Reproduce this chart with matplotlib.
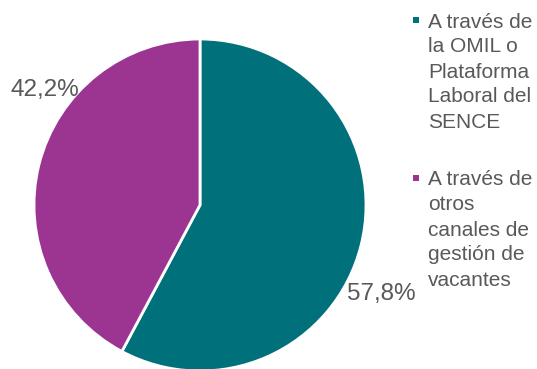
import matplotlib
matplotlib.use("Agg")
import matplotlib.pyplot as plt

plt.rcParams['font.family'] = ['Liberation Sans', 'DejaVu Sans']

categories = [
    "A través de\nla OMIL o\nPlataforma\nLaboral del\nSENCE",
    "A través de\notros\ncanales de\ngestión de\nvacantes",
]
values = [57.8, 42.2]
colors = ["#00717B", "#9C3592"]
text_color = "#595959"

W, H = 537, 369
fig = plt.figure(figsize=(W / 100, H / 100), dpi=100)

# pie axes placed in pixel terms: centre (200, 205), radius 166
cx, cy, r = 200, 205, 166
ax = fig.add_axes([(cx - r) / W, (H - cy - r) / H, 2 * r / W, 2 * r / H])
ax.pie(values, colors=colors, startangle=90, counterclock=False,
       wedgeprops=dict(edgecolor="white", linewidth=2), radius=1.0)
ax.set_xlim(-1, 1)
ax.set_ylim(-1, 1)
ax.set_aspect("equal")
ax.axis("off")

# value labels
label_pos = [(1.09, -0.535), (-0.935, 0.695)]
for v, (x, y) in zip(values, label_pos):
    ax.text(x, y, f"{v:.1f}%".replace(".", ","), ha="center", va="center",
            fontsize=17.5, color=text_color, clip_on=False)

# legend: square marker beside the first line of each wrapped label,
# one text line every 25 px
entry_center = [20, 178]
line_step = 25
for lab, c, yc in zip(categories, colors, entry_center):
    for i, line in enumerate(lab.split("\n")):
        fig.text(428 / W, 1 - (yc + i * line_step) / H, line, ha="left",
                 va="center_baseline", fontsize=15, color=text_color)
    fig.patches.append(plt.Rectangle((413 / W, 1 - (yc + 3) / H),
                                     6 / W, 6 / H, transform=fig.transFigure,
                                     facecolor=c, edgecolor="none"))

fig.savefig("out.png", dpi=100)
